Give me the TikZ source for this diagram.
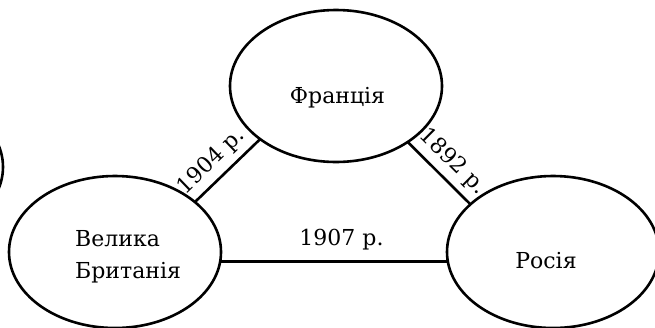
\documentclass[tikz,border=0pt]{standalone}
\usepackage{fontspec}
\setmainfont{DejaVu Serif}
\usetikzlibrary{shapes.geometric}
\begin{document}
\begin{tikzpicture}[x=1pt,y=-1pt,
  state/.style={draw, ellipse, line width=2.6pt, minimum width=212pt, minimum height=152pt, inner sep=0pt, outer sep=0pt},
  link/.style={line width=2.6pt},
  txt/.style={font=\fontsize{22}{32}\selectfont, inner sep=0pt},
  yr/.style={font=\fontsize{22}{32}\selectfont, sloped, inner sep=0pt}]
\useasboundingbox (0,0) rectangle (655,327);
\clip (0,0) rectangle (655,327);
\node[state] (prev) at (-103,167) {};
\node[state] (fra) at (336,86) {};
\node[state] (gb) at (115,252) {};
\node[state] (rus) at (553,252) {};
\node[txt, anchor=base] (fraT) at (337.5,103) {Франція};
\node[txt, anchor=base west, align=left] (gbT) at (75,278) {Велика\\Британія};
\node[txt, anchor=base] (rusT) at (546,268) {Росія};
\draw[link] (gb.32) -- node[yr, pos=0.44, above=6pt] (l1904) {1904 р.} (fra.215);
\draw[link] (fra.-38) -- node[yr, pos=0.52, above=6pt] (l1892) {1892 р.} (rus.150.5);
\draw[link] (gb.-5.4) -- node[yr, pos=0.533, above=10pt] (l1907) {1907 р.} (rus.185.4);
\end{tikzpicture}
\end{document}
